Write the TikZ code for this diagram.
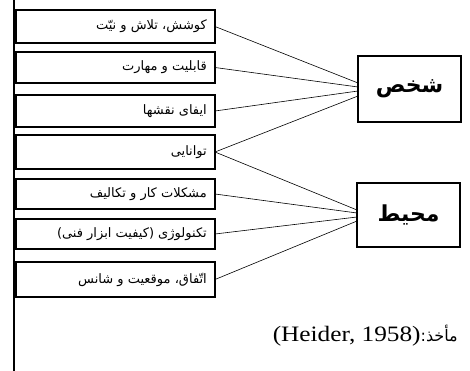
\documentclass[tikz,border=0pt]{standalone}
\usepackage{fontspec}
\setmainfont{Liberation Serif}
\newfontfamily\arabicfont[Script=Arabic]{DejaVu Sans}
\TeXXeTstate=1
\usetikzlibrary{calc}
\tikzset{
  item/.style={draw, line width=1.2pt, inner sep=0pt, outer sep=0pt, anchor=north west, minimum width=199pt},
  itemtext/.style={anchor=east, inner sep=0pt, font=\arabicfont\fontsize{13}{15}\selectfont},
  main/.style={draw, line width=2pt, inner sep=0pt, outer sep=0pt, anchor=north west, minimum width=103pt, font=\arabicfont\bfseries\fontsize{22}{26}\selectfont},
  link/.style={line width=0.6pt}
}
\newcommand{\rl}[1]{\beginR #1\endR}
\begin{document}
\begin{tikzpicture}[x=1pt,y=-1pt]
\useasboundingbox (0,0) rectangle (470,371);
\draw[line width=1.4pt] (14,0) coordinate (vt) -- (14,371) coordinate (vb);
\node[item, minimum height=33pt] (b1) at (16,10) {};
\node[item, minimum height=31pt] (b2) at (16,52) {};
\node[item, minimum height=32pt] (b3) at (16,95) {};
\node[item, minimum height=34pt] (b4) at (16,135) {};
\node[item, minimum height=30pt] (b5) at (16,179) {};
\node[item, minimum height=30pt] (b6) at (16,219) {};
\node[item, minimum height=35pt] (b7) at (16,262) {};
\node[itemtext] (t1) at ($(b1.east)+(-8,0)$) {\rl{کوشش، تلاش و نیّت}};
\node[itemtext] (t2) at ($(b2.east)+(-8,0)$) {\rl{قابلیت و مهارت}};
\node[itemtext] (t3) at ($(b3.east)+(-8,0)$) {\rl{ایفای نقشها}};
\node[itemtext] (t4) at ($(b4.east)+(-8,0)$) {\rl{توانایی}};
\node[itemtext] (t5) at ($(b5.east)+(-8,0)$) {\rl{مشکلات کار و تکالیف}};
\node[itemtext] (t6) at ($(b6.east)+(-8,0)$) {\rl{تکنولوژی (کیفیت ابزار فنی)}};
\node[itemtext] (t7) at ($(b7.east)+(-8,0)$) {\rl{اتّفاق، موقعیت و شانس}};
\node[main, minimum height=66pt] (p) at (358,56) {\rl{شخص}};
\node[main, minimum height=64pt] (e) at (357,183) {\rl{محیط}};
\draw[link] (b1.east) -- ($(p.west)+(0,-6)$);
\draw[link] (b2.east) -- ($(p.west)+(0,-2)$);
\draw[link] (b3.east) -- ($(p.west)+(0,2)$);
\draw[link] (b4.east) -- ($(p.west)+(0,7)$);
\draw[link] (b4.east) -- ($(e.west)+(0,-5)$);
\draw[link] (b5.east) -- ($(e.west)+(0,-2)$);
\draw[link] (b6.east) -- ($(e.west)+(0,2)$);
\draw[link] (b7.east) -- ($(e.west)+(0,6)$);
\node[anchor=east, inner sep=0pt] (src) at (458,336) {\scalebox{1.15}[1]{\fontsize{22}{26}\selectfont(Heider, 1958)}{\arabicfont\fontsize{16}{20}\selectfont\rl{مأخذ:}}};
\end{tikzpicture}
\end{document}
